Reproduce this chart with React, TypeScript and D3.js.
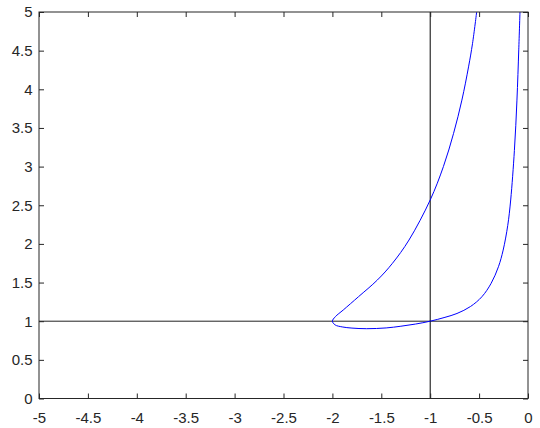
import { useEffect, useRef } from "react";
import * as d3 from "d3";

// curve, in path order: upper branch down to the
// left turning point, then the lower branch back up to the top
const curveX = [
  -0.525, -0.567, -0.608, -0.676, -0.761, -0.865, -1.0, -1.217, -1.386, -1.54, -1.733, -1.889, -1.97, -2.0,
  -1.972, -1.9, -1.8, -1.65, -1.45, -1.3, -1.15, -1.0,
  -0.849, -0.726, -0.588, -0.471, -0.377, -0.302, -0.254, -0.207, -0.177, -0.139, -0.113, -0.0945, -0.082,
];
const curveY = [
  5, 4.595, 4.29, 3.86, 3.43, 3.0, 2.568, 2.05, 1.749, 1.533, 1.317, 1.145, 1.058, 1.0,
  0.952, 0.926, 0.911, 0.903, 0.913, 0.935, 0.963, 1.0,
  1.05, 1.1, 1.19, 1.317, 1.49, 1.705, 1.92, 2.24, 2.568, 3.21, 3.86, 4.51, 5,
];

const xTicks = [-5, -4.5, -4, -3.5, -3, -2.5, -2, -1.5, -1, -0.5, 0];
const yTicks = [0, 0.5, 1, 1.5, 2, 2.5, 3, 3.5, 4, 4.5, 5];

const refX = -1;
const refY = 1;

const App = () => {
  const svgRef = useRef<SVGSVGElement | null>(null);

  useEffect(() => {
    const WIDTH = 540;
    const HEIGHT = 428;
    const M = { left: 39, right: 12, top: 12, bottom: 29.5 };

    const svg = d3.select(svgRef.current).attr("width", WIDTH).attr("height", HEIGHT);
    svg.selectAll("*").remove();

    const x = d3.scaleLinear().domain([-5, 0]).range([M.left, WIDTH - M.right]);
    const y = d3.scaleLinear().domain([0, 5]).range([HEIGHT - M.bottom, M.top]);

    svg.append("rect").attr("width", WIDTH).attr("height", HEIGHT).attr("fill", "#fff");

    const fmt = (d: d3.NumberValue) => String(+d);
    const axisColor = "#262626";

    // reference lines
    svg
      .append("line")
      .attr("x1", x(-5))
      .attr("x2", x(0))
      .attr("y1", y(refY))
      .attr("y2", y(refY))
      .attr("stroke", "#222")
      .attr("stroke-width", 1);
    svg
      .append("line")
      .attr("x1", x(refX))
      .attr("x2", x(refX))
      .attr("y1", y(0))
      .attr("y2", y(5))
      .attr("stroke", "#000")
      .attr("stroke-width", 1);

    const pts: [number, number][] = curveX.map((d, i) => [d, curveY[i]]);
    const line = d3
      .line<[number, number]>()
      .x((d) => x(d[0]))
      .y((d) => y(d[1]))
      .curve(d3.curveCatmullRom.alpha(0.5));

    svg
      .append("path")
      .datum(pts)
      .attr("d", line)
      .attr("fill", "none")
      .attr("stroke", "#0000ff")
      .attr("stroke-width", 1);

    const styleAxis = (g: d3.Selection<SVGGElement, unknown, null, undefined>, labels: boolean) => {
      g.select(".domain").remove();
      g.selectAll(".tick line").attr("stroke", axisColor).attr("stroke-width", 1);
      g.selectAll(".tick text")
        .attr("fill", labels ? axisColor : "none")
        .attr("font-family", "Liberation Sans, Arial, sans-serif")
        .attr("font-size", 15);
    };

    // bottom / top
    svg
      .append("g")
      .attr("transform", `translate(0,${y(0)})`)
      .call(d3.axisTop(x).tickValues(xTicks).tickSize(5).tickFormat(fmt))
      .call((g) => styleAxis(g, false));
    svg
      .append("g")
      .attr("transform", `translate(0,${y(0)})`)
      .call(d3.axisBottom(x).tickValues(xTicks).tickSize(0).tickPadding(14).tickFormat(fmt))
      .call((g) => styleAxis(g, true));
    svg
      .append("g")
      .attr("transform", `translate(0,${y(5)})`)
      .call(d3.axisBottom(x).tickValues(xTicks).tickSize(5).tickFormat(() => ""))
      .call((g) => styleAxis(g, false));

    // left / right
    svg
      .append("g")
      .attr("transform", `translate(${x(-5)},0)`)
      .call(d3.axisRight(y).tickValues(yTicks).tickSize(5).tickFormat(() => ""))
      .call((g) => styleAxis(g, false));
    svg
      .append("g")
      .attr("transform", `translate(${x(-5)},0)`)
      .call(d3.axisLeft(y).tickValues(yTicks).tickSize(0).tickPadding(6.5).tickFormat(fmt))
      .call((g) => styleAxis(g, true));
    svg
      .append("g")
      .attr("transform", `translate(${x(0)},0)`)
      .call(d3.axisLeft(y).tickValues(yTicks).tickSize(5).tickFormat(() => ""))
      .call((g) => styleAxis(g, false));

    // box
    svg
      .append("rect")
      .attr("x", x(-5))
      .attr("y", y(5))
      .attr("width", x(0) - x(-5))
      .attr("height", y(0) - y(5))
      .attr("fill", "none")
      .attr("stroke", axisColor)
      .attr("stroke-width", 1);
  }, []);

  return (
    <div style={{ position: "fixed", left: 0, top: 0 }}>
      <svg ref={svgRef} style={{ display: "block" }} />
    </div>
  );
};

export default App;
